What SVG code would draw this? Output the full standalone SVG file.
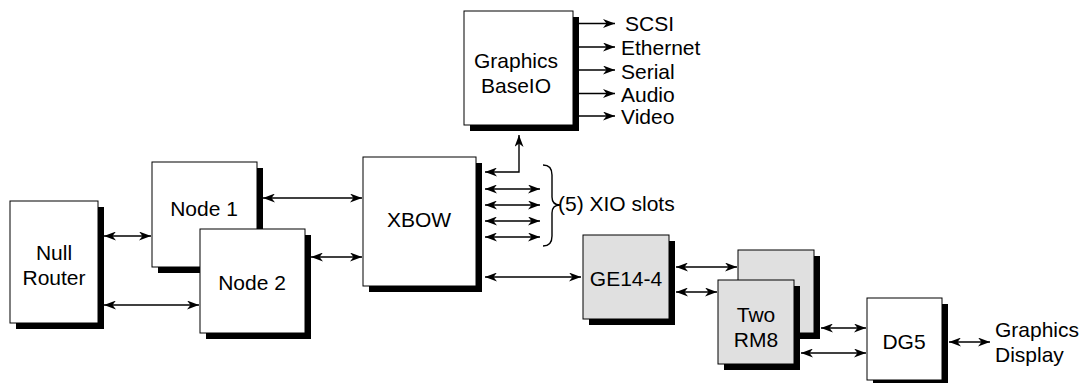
<svg xmlns="http://www.w3.org/2000/svg" width="1081" height="383" viewBox="0 0 1081 383">
<style>
.box{fill:#fff;stroke:#000;stroke-width:1}
.gray{fill:#e0e0e0;stroke:#000;stroke-width:1}
.sh{fill:#000}
.t{font-family:"Liberation Sans",Arial,sans-serif;font-size:21px;fill:#000}
.c{text-anchor:middle}
.ln{fill:none;stroke:#000;stroke-width:1.4}
</style>
<defs>
<marker id="ah" viewBox="0 0 12 9" refX="12" refY="4.5" markerWidth="12" markerHeight="9" markerUnits="userSpaceOnUse" orient="auto-start-reverse">
<path d="M0,0 L12,4.5 L0,9 L3.5,4.5 z" fill="#000"/>
</marker>
</defs>
<rect width="1081" height="383" fill="#fff"/>
<g id="connectors">
<line class="ln" x1="104" y1="236" x2="151" y2="236" marker-start="url(#ah)" marker-end="url(#ah)"/>
<line class="ln" x1="104" y1="305" x2="199" y2="305" marker-start="url(#ah)" marker-end="url(#ah)"/>
<line class="ln" x1="263" y1="198" x2="362" y2="198" marker-start="url(#ah)" marker-end="url(#ah)"/>
<line class="ln" x1="311" y1="257" x2="362" y2="257" marker-start="url(#ah)" marker-end="url(#ah)"/>
<polyline class="ln" points="485,172 519,172 519,135" marker-start="url(#ah)" marker-end="url(#ah)"/>
<line class="ln" x1="485" y1="189" x2="540" y2="189" marker-start="url(#ah)" marker-end="url(#ah)"/>
<line class="ln" x1="485" y1="205" x2="540" y2="205" marker-start="url(#ah)" marker-end="url(#ah)"/>
<line class="ln" x1="485" y1="221" x2="540" y2="221" marker-start="url(#ah)" marker-end="url(#ah)"/>
<line class="ln" x1="485" y1="237" x2="540" y2="237" marker-start="url(#ah)" marker-end="url(#ah)"/>
<line class="ln" x1="485" y1="277" x2="581" y2="277" marker-start="url(#ah)" marker-end="url(#ah)"/>
<line class="ln" x1="579" y1="23.5" x2="615" y2="23.5" marker-end="url(#ah)"/>
<line class="ln" x1="579" y1="47" x2="615" y2="47" marker-end="url(#ah)"/>
<line class="ln" x1="579" y1="70" x2="615" y2="70" marker-end="url(#ah)"/>
<line class="ln" x1="579" y1="93.5" x2="615" y2="93.5" marker-end="url(#ah)"/>
<line class="ln" x1="579" y1="116" x2="615" y2="116" marker-end="url(#ah)"/>
<line class="ln" x1="676" y1="267" x2="737" y2="267" marker-start="url(#ah)" marker-end="url(#ah)"/>
<line class="ln" x1="676" y1="292" x2="717" y2="292" marker-start="url(#ah)" marker-end="url(#ah)"/>
<line class="ln" x1="821" y1="328" x2="866" y2="328" marker-start="url(#ah)" marker-end="url(#ah)"/>
<line class="ln" x1="801" y1="353" x2="866" y2="353" marker-start="url(#ah)" marker-end="url(#ah)"/>
<line class="ln" x1="949" y1="342" x2="990" y2="342" marker-start="url(#ah)" marker-end="url(#ah)"/>
<path class="ln" d="M543,165 Q552,165 552,175 L552,197 Q552,205 560,205 Q552,205 552,213 L552,236 Q552,246 543,246"/>
</g>
<g id="null-router">
<rect class="sh" x="16" y="207" width="88" height="122"/>
<rect class="box" x="10" y="201" width="88" height="122"/>
<text class="t c" x="54" y="260">Null</text>
<text class="t c" x="54" y="285">Router</text>
</g>
<g id="node1">
<rect class="sh" x="158" y="168" width="105" height="105"/>
<rect class="box" x="152" y="162" width="105" height="105"/>
<text class="t c" x="204" y="216">Node 1</text>
</g>
<g id="node2">
<rect class="sh" x="206" y="235" width="105" height="104"/>
<rect class="box" x="200" y="229" width="105" height="104"/>
<text class="t c" x="252" y="290">Node 2</text>
</g>
<g id="xbow">
<rect class="sh" x="369" y="163" width="113" height="129"/>
<rect class="box" x="363" y="157" width="113" height="129"/>
<text class="t c" x="419" y="227">XBOW</text>
</g>
<g id="graphics-baseio">
<rect class="sh" x="470" y="17" width="109" height="114"/>
<rect class="box" x="464" y="11" width="109" height="114"/>
<text class="t c" x="516" y="68">Graphics</text>
<text class="t c" x="516" y="93">BaseIO</text>
</g>
<g id="io-labels">
<text class="t" x="625" y="31">SCSI</text>
<text class="t" x="621" y="55">Ethernet</text>
<text class="t" x="621" y="79">Serial</text>
<text class="t" x="621" y="102">Audio</text>
<text class="t" x="621" y="124">Video</text>
</g>
<g id="xio-label">
<text class="t" x="558" y="211">(5) XIO slots</text>
</g>
<g id="ge14-4">
<rect class="sh" x="589" y="241" width="86" height="84"/>
<rect class="gray" x="583" y="235" width="86" height="84"/>
<text class="t c" x="626" y="286">GE14-4</text>
</g>
<g id="rm8-back">
<rect class="sh" x="744" y="256" width="76" height="83"/>
<rect class="gray" x="738" y="250" width="76" height="83"/>
</g>
<g id="rm8-front">
<rect class="sh" x="724" y="286" width="76" height="84"/>
<rect class="gray" x="718" y="280" width="76" height="84"/>
<text class="t c" x="756" y="322">Two</text>
<text class="t c" x="756" y="347">RM8</text>
</g>
<g id="dg5">
<rect class="sh" x="873" y="304" width="75" height="82"/>
<rect class="box" x="867" y="298" width="75" height="82"/>
<text class="t c" x="904" y="349">DG5</text>
</g>
<g id="graphics-display">
<text class="t" x="995" y="337">Graphics</text>
<text class="t" x="995" y="362">Display</text>
</g>
</svg>
